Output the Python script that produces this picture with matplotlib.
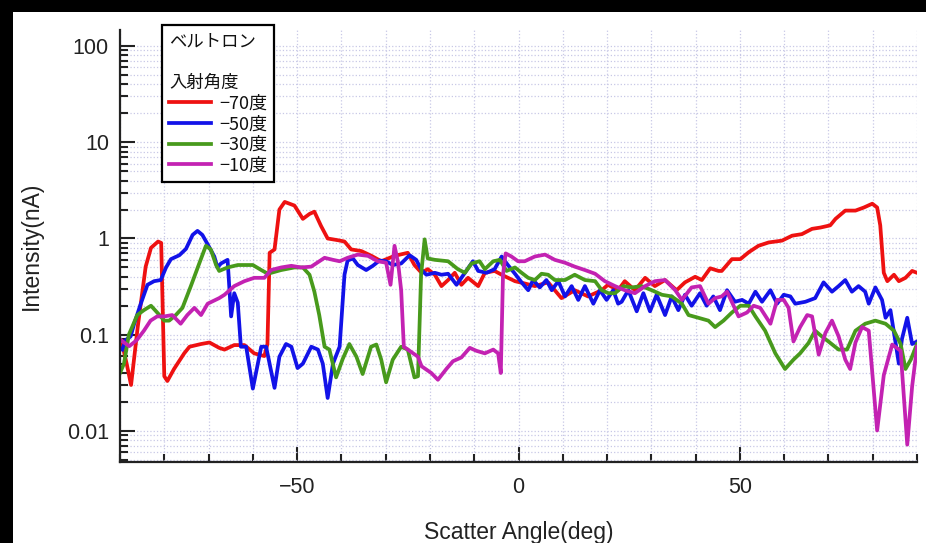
import numpy as np
import matplotlib
matplotlib.use('Agg')
import matplotlib.pyplot as plt
from matplotlib.patches import Rectangle
from matplotlib.ticker import MultipleLocator, NullFormatter, LogLocator

plt.rcParams['font.family'] = ['Liberation Sans', 'Noto Sans CJK JP', 'DejaVu Sans']

# scatter angle (deg) and intensity (nA)
ang_70 = [-89.5, -88.5, -87.5, -86, -84.2, -83, -81.4, -80.7, -80.0, -79.3, -77.8, -75.5,
          -74.3, -71.7, -69.8, -67.6, -66.4, -64.2, -61.9, -59.7, -57.4, -56.7, -56.2, -55.1,
          -54.0, -52.8, -50.6, -48.7, -47.2, -46.1, -44.6, -43.1, -40.8, -39.3, -37.8, -35.5,
          -33.2, -31.0, -28.0, -25.0, -23.5, -21.9, -20.5, -18.9, -17.4, -15.9, -14.4, -12.9,
          -11.4, -9.1, -7.6, -5.4, -3.8, -0.8, 1.5, 3.7, 6.7, 9.7, 12.7, 15.7, 18.8, 20.2,
          22.5, 24.0, 26.3, 28.6, 30.8, 33.1, 35.7, 37.6, 39.9, 41.4, 43.3, 45.2, 45.9, 48.2,
          50.1, 52.0, 54.2, 56.5, 59.5, 61.8, 64.0, 66.3, 68.2, 70.4, 71.6, 73.8, 76.1, 78.0,
          79.9, 81.0, 81.7, 82.5, 83.3, 84.8, 85.9, 87.4, 88.9, 90.0]
val_70 = [0.08, 0.05, 0.03, 0.12, 0.51, 0.80, 0.93, 0.9, 0.037, 0.033, 0.044, 0.064,
          0.075, 0.08, 0.083, 0.073, 0.07, 0.078, 0.078, 0.064, 0.06, 0.08, 0.71, 0.77,
          2.0, 2.4, 2.2, 1.6, 1.8, 1.9, 1.35, 1.0, 0.96, 0.93, 0.77, 0.74,
          0.66, 0.58, 0.66, 0.71, 0.53, 0.44, 0.48, 0.42, 0.32, 0.37, 0.44, 0.33,
          0.39, 0.32, 0.44, 0.46, 0.42, 0.36, 0.34, 0.32, 0.35, 0.24, 0.29, 0.25, 0.29, 0.33,
          0.29, 0.36, 0.29, 0.39, 0.32, 0.37, 0.29, 0.35, 0.40, 0.37, 0.49, 0.46, 0.46, 0.61,
          0.61, 0.72, 0.84, 0.91, 0.95, 1.07, 1.11, 1.26, 1.3, 1.37, 1.6, 1.95, 1.95, 2.1,
          2.3, 2.1, 1.37, 0.44, 0.36, 0.42, 0.36, 0.39, 0.46, 0.44]

ang_50 = [-89.5, -88.7, -87.6, -86.8, -85.3, -83.8, -82.3, -80.8, -79.6, -78.5, -76.6, -75.1,
          -73.6, -72.5, -71.4, -70.2, -68.7, -68.0, -67.2, -65.7, -64.9, -64.2, -63.4, -62.7,
          -61.5, -60.0, -58.1, -57.0, -55.1, -54.0, -52.5, -51.3, -49.9, -48.7, -46.8, -45.3,
          -44.2, -43.1, -41.9, -40.4, -39.3, -38.6, -37.4, -36.3, -34.4, -32.9, -31.4, -29.9,
          -28.4, -26.5, -24.6, -23.1, -21.9, -20.8, -18.9, -17.4, -15.9, -14.0, -12.1, -10.3,
          -9.1, -7.2, -5.4, -3.8, -2.4, -0.8, 0.7, 2.2, 3.3, 4.8, 6.3, 7.5,
          9.0, 10.5, 12.0, 13.5, 15.0, 16.9, 18.4, 19.9, 21.4, 22.5, 23.3, 24.8,
          26.7, 28.2, 29.7, 31.2, 33.1, 34.6, 36.1, 37.6, 39.1, 41.0, 42.5, 44.0,
          45.5, 47.1, 48.9, 50.5, 52.0, 53.5, 55.0, 56.9, 58.4, 59.9, 61.4, 62.5,
          64.8, 67.0, 68.9, 70.8, 72.3, 73.8, 75.3, 76.8, 78.3, 79.1, 80.6, 82.1,
          82.9, 84.0, 85.9, 86.6, 87.8, 88.9, 90.0]
val_50 = [0.07, 0.088, 0.096, 0.13, 0.21, 0.33, 0.36, 0.37, 0.50, 0.61, 0.67, 0.78,
          1.09, 1.2, 1.09, 0.87, 0.65, 0.5, 0.55, 0.6, 0.155, 0.27, 0.215, 0.075,
          0.075, 0.0275, 0.075, 0.075, 0.028, 0.059, 0.08, 0.075, 0.045, 0.05, 0.075, 0.07,
          0.05, 0.022, 0.05, 0.075, 0.42, 0.59, 0.62, 0.53, 0.47, 0.52, 0.59, 0.58,
          0.53, 0.55, 0.67, 0.6, 0.47, 0.42, 0.44, 0.42, 0.43, 0.33, 0.44, 0.58,
          0.46, 0.44, 0.48, 0.65, 0.53, 0.43, 0.35, 0.29, 0.37, 0.31, 0.37, 0.29,
          0.36, 0.25, 0.32, 0.23, 0.32, 0.21, 0.29, 0.23, 0.29, 0.21, 0.22, 0.29,
          0.175, 0.27, 0.175, 0.26, 0.16, 0.25, 0.18, 0.26, 0.2, 0.27, 0.2, 0.25,
          0.18, 0.29, 0.22, 0.23, 0.21, 0.28, 0.22, 0.29, 0.21, 0.26, 0.25, 0.21,
          0.22, 0.24, 0.35, 0.28, 0.32, 0.37, 0.28, 0.32, 0.28, 0.21, 0.31, 0.23,
          0.15, 0.18, 0.05, 0.09, 0.15, 0.08, 0.085]

ang_30 = [-90, -89.1, -88.0, -86.1, -84.6, -83.0, -81.6, -80.0, -78.9, -77.4, -75.9, -74.0,
          -72.1, -70.6, -69.5, -68.3, -67.6, -65.7, -63.4, -60.0, -58.1, -56.6, -53.6, -50.6,
          -48.7, -47.2, -46.1, -45.0, -43.8, -42.7, -41.2, -39.7, -38.2, -36.6, -35.2, -33.3,
          -32.1, -31.0, -29.9, -28.4, -26.5, -25.0, -23.5, -22.7, -22.0, -21.2, -20.5, -18.9,
          -15.9, -13.7, -12.1, -10.6, -8.8, -7.6, -5.7, -4.2, -2.7, -0.8, 0.7, 2.2,
          3.7, 5.2, 6.7, 8.2, 10.5, 12.7, 15.0, 17.3, 18.8, 20.3, 21.8, 23.7,
          25.6, 27.8, 30.1, 32.4, 34.6, 36.9, 38.4, 40.6, 42.9, 44.4, 46.3, 48.2,
          50.1, 52.0, 53.5, 55.7, 58.0, 60.2, 62.1, 63.6, 65.5, 67.0, 68.5, 70.0,
          72.3, 74.2, 76.1, 78.3, 80.6, 82.9, 84.8, 86.3, 87.4, 88.6, 90.0]
val_30 = [0.04, 0.05, 0.1, 0.16, 0.18, 0.2, 0.17, 0.14, 0.14, 0.16, 0.19, 0.32,
          0.55, 0.84, 0.77, 0.53, 0.46, 0.5, 0.53, 0.53, 0.47, 0.43, 0.47, 0.5,
          0.5, 0.42, 0.28, 0.16, 0.075, 0.07, 0.036, 0.056, 0.08, 0.059, 0.039, 0.075,
          0.079, 0.055, 0.032, 0.055, 0.075, 0.07, 0.036, 0.037, 0.42, 0.98, 0.62, 0.6,
          0.58, 0.48, 0.44, 0.55, 0.58, 0.48, 0.58, 0.6, 0.46, 0.5, 0.44, 0.39,
          0.37, 0.43, 0.42, 0.37, 0.37, 0.42, 0.37, 0.36, 0.29, 0.27, 0.27, 0.32,
          0.31, 0.32, 0.29, 0.26, 0.25, 0.21, 0.16, 0.15, 0.14, 0.12, 0.14, 0.17,
          0.2, 0.2, 0.155, 0.11, 0.064, 0.044, 0.055, 0.064, 0.082, 0.11, 0.096, 0.085,
          0.07, 0.07, 0.11, 0.13, 0.14, 0.13, 0.11, 0.08, 0.044, 0.055, 0.08]

ang_10 = [-90, -89.1, -87.9, -86.2, -84.6, -83.1, -81.6, -80.0, -78.2, -76.3, -74.8, -73.2,
          -71.7, -70.2, -67.6, -66.4, -64.2, -61.9, -59.7, -57.4, -55.9, -53.6, -51.3, -49.1,
          -46.8, -43.8, -41.9, -40.4, -38.6, -36.3, -34.0, -31.8, -29.9, -28.9, -28.0, -27.2,
          -26.5, -25.9, -24.6, -22.7, -21.9, -19.7, -18.2, -16.3, -14.8, -12.9, -11.0, -9.5,
          -7.6, -5.7, -4.6, -4.0, -3.5, -2.9, -1.6, -0.1, 1.4, 3.7, 6.0, 8.2,
          10.5, 12.7, 15.0, 17.3, 19.5, 21.8, 24.0, 26.3, 28.6, 30.8, 33.1, 35.4,
          36.9, 39.1, 41.0, 42.9, 44.4, 45.9, 47.1, 49.7, 51.6, 53.1, 54.6, 56.9,
          58.4, 59.9, 61.0, 62.1, 63.6, 65.2, 66.3, 67.8, 69.3, 70.8, 72.3, 73.8,
          74.9, 76.1, 77.6, 79.1, 81.0, 82.5, 84.4, 86.3, 87.8, 88.9, 90.0]
val_10 = [0.09, 0.083, 0.076, 0.088, 0.11, 0.14, 0.155, 0.155, 0.16, 0.13, 0.16, 0.19,
          0.16, 0.21, 0.24, 0.26, 0.32, 0.36, 0.39, 0.39, 0.47, 0.5, 0.52, 0.5,
          0.51, 0.63, 0.6, 0.58, 0.63, 0.68, 0.66, 0.58, 0.56, 0.33, 0.84, 0.56,
          0.29, 0.075, 0.068, 0.059, 0.047, 0.04, 0.034, 0.044, 0.053, 0.058, 0.073, 0.068,
          0.064, 0.07, 0.064, 0.04, 0.42, 0.7, 0.65, 0.58, 0.58, 0.65, 0.68, 0.6,
          0.56, 0.51, 0.47, 0.43, 0.36, 0.32, 0.29, 0.27, 0.32, 0.36, 0.37, 0.29,
          0.23, 0.31, 0.32, 0.21, 0.24, 0.25, 0.28, 0.155, 0.17, 0.2, 0.19, 0.13,
          0.23, 0.23, 0.19, 0.085, 0.12, 0.16, 0.155, 0.062, 0.104, 0.14, 0.096, 0.055,
          0.044, 0.083, 0.12, 0.11, 0.0101, 0.038, 0.079, 0.068, 0.0072, 0.029, 0.075]

labels = ['\u221270度', '\u221250度', '\u221230度', '\u221210度']
colors = ['#ee1111', '#1212e8', '#489a1c', '#c322b2']

fig = plt.figure(figsize=(9.26, 5.43), dpi=100)
fig.patch.set_facecolor('black')
# white panel behind the plot (black border on left and top)
fig.add_artist(Rectangle((13 / 926, 0), 1, 1 - 12 / 543, transform=fig.transFigure,
                         facecolor='white', edgecolor='none', zorder=-10))

ax = fig.add_axes([120 / 926, 1 - 462 / 543, (917 - 120) / 926, (462 - 30) / 543])
ax.set_facecolor('white')

series = [(ang_70, val_70), (ang_50, val_50), (ang_30, val_30), (ang_10, val_10)]
handles = []
for (xs, ys), lab, c in zip(series, labels, colors):
    h, = ax.plot(xs, ys, color=c, lw=2.7, label=lab, solid_joinstyle='round')
    handles.append(h)

ax.set_yscale('log')
ax.set_xlim(-90, 90)
ax.set_ylim(0.00475, 147)

ax.set_xticks([-50, 0, 50])
ax.xaxis.set_minor_locator(MultipleLocator(10))
ax.set_yticks([0.01, 0.1, 1, 10, 100])
ax.set_yticklabels(['0.01', '0.1', '1', '10', '100'])
ax.yaxis.set_minor_locator(LogLocator(base=10, subs=np.arange(2, 10)))
ax.yaxis.set_minor_formatter(NullFormatter())

for s in ['top', 'right']:
    ax.spines[s].set_visible(False)
for s in ['left', 'bottom']:
    ax.spines[s].set_linewidth(1.6)
    ax.spines[s].set_color('#222222')

ax.tick_params(which='major', direction='in', length=11, width=1.5, color='#222222',
               labelsize=15.5, labelcolor='#222222')
ax.tick_params(which='minor', direction='in', length=5.5, width=1.5, color='#222222')
ax.tick_params(axis='x', which='major', pad=11)
ax.tick_params(axis='y', which='major', pad=8)

ax.grid(which='both', color='#c8c8e6', linestyle=':', linewidth=0.9)
ax.set_axisbelow(True)

ax.set_xlabel('Scatter Angle(deg)', fontsize=16.5, color='#222222', labelpad=16)
ax.set_ylabel('Intensity(nA)', fontsize=16.5, color='#222222', labelpad=17)

leg = ax.legend(handles=handles, labels=labels, title='ベルトロン\n\n入射角度',
                loc='upper left', bbox_to_anchor=(162 / 926, 1 - 25 / 543),
                bbox_transform=fig.transFigure, borderaxespad=0,
                fontsize=13, title_fontsize=12.5, alignment='left',
                frameon=True, fancybox=False, framealpha=1, edgecolor='black',
                handlelength=2.3, handletextpad=0.45, labelspacing=0.15,
                borderpad=0.4)
leg.get_frame().set_linewidth(1.6)
for t in [leg.get_title()] + leg.get_texts():
    t.set_family(['Noto Sans CJK JP', 'DejaVu Sans'])
    t.set_color('#111111')

fig.savefig('out.png', dpi=100)
